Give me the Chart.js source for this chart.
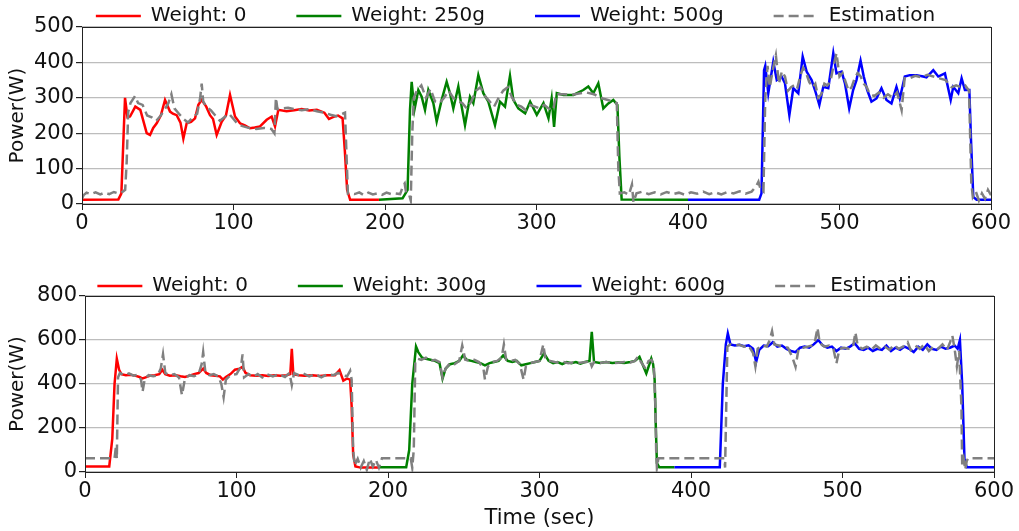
<!DOCTYPE html>
<html>
<head>
<meta charset="utf-8">
<script src="https://cdn.jsdelivr.net/npm/chart.js@4.4.1/dist/chart.umd.min.js"></script>
<style>
    body { margin: 0; background: #fff; }
    #wrap { position: relative; width: 1019px; height: 531px; }
    #topBox { position: absolute; left: 0; top: 0; }
    #bottomBox { position: absolute; left: 0; top: 270px; }
</style>
</head>
<body>
<div id="wrap">
    <div id="topBox"><canvas id="topChart" width="1019" height="240"></canvas></div>
    <div id="bottomBox"><canvas id="bottomChart" width="1019" height="261"></canvas></div>
</div>
<script>
// ---- tick labels ----
const xTicks = [0, 100, 200, 300, 400, 500, 600];
const topYTicks = [0, 100, 200, 300, 400, 500];
const bottomYTicks = [0, 200, 400, 600, 800];

const topLabels = ['Weight: 0', 'Weight: 250g', 'Weight: 500g', 'Estimation'];
const bottomLabels = ['Weight: 0', 'Weight: 300g', 'Weight: 600g', 'Estimation'];

// ---- top plot: measured power ----
const topRedT = [0, 24, 26, 27.5, 28.4, 30, 31.7, 35.2, 38.5, 42.7, 44.9, 47, 49.3, 52, 54.8, 58.1, 60, 62.5, 65, 66.9, 69.1, 72, 74.6, 76.8, 79, 82, 84.5, 86.5, 88.9, 92.2, 95, 97.7, 101, 104.3, 107.5, 110.9, 114, 117.5, 121.9, 125.2, 127.4, 129.6, 135, 140, 145, 150, 155, 160, 163, 166, 169, 172, 173.5, 175, 177, 196];
const topRedP = [12, 13, 30, 200, 300, 245, 247, 275, 266, 200, 195, 215, 228, 250, 294, 261, 255, 251, 230, 185, 228, 232, 242, 280, 294, 275, 251, 240, 195, 232, 250, 308, 247, 228, 222, 214, 216, 219, 238, 247, 219, 266, 262, 265, 268, 264, 266, 258, 240, 246, 250, 242, 150, 40, 12, 12];

const topGreenT = [196, 211.6, 214.9, 216.5, 217.6, 219.4, 222, 224.2, 226.4, 228.6, 231.9, 234.1, 237.4, 240.7, 242.9, 245.1, 248.4, 250.6, 252.8, 256.1, 258.3, 261.6, 264.9, 268.2, 272.6, 275.9, 279.2, 282.5, 284.7, 288, 292.5, 295.8, 300.2, 304.6, 307.9, 310, 311.6, 313.4, 317.8, 324.4, 330.9, 334.2, 337.5, 340.8, 344.1, 347.4, 350.7, 353.4, 354.7, 356.2, 400];
const topGreenP = [12, 16, 40, 266, 345, 266, 322, 303, 266, 322, 285, 233, 294, 345, 313, 270, 332, 275, 223, 303, 285, 364, 313, 289, 223, 289, 275, 362, 294, 270, 256, 289, 252, 285, 242, 298, 218, 313, 308, 308, 322, 332, 313, 341, 270, 284, 294, 280, 134, 13, 12];

const topBlueT = [400, 447, 448.5, 450.2, 451, 453, 456.3, 458.6, 461.8, 464, 466.9, 469.5, 472.8, 475.7, 478.3, 481.6, 483.8, 486.7, 489.3, 492.6, 495.9, 498, 501.4, 503.6, 506.4, 509, 511.2, 513.9, 516, 518.3, 521.1, 524.4, 527.7, 531, 534.3, 537.6, 539.8, 543.1, 546.4, 550.8, 555.2, 557.4, 561.9, 565.2, 569.6, 573.4, 575.1, 578.4, 580.6, 582.8, 585.7, 586.8, 588.3, 590.5, 600];
const topBlueP = [12, 12, 30, 378, 390, 313, 402, 350, 360, 341, 251, 327, 313, 416, 374, 350, 322, 280, 331, 327, 426, 369, 374, 341, 270, 322, 350, 405, 360, 322, 289, 298, 327, 294, 284, 331, 298, 360, 364, 364, 360, 358, 378, 360, 369, 294, 331, 313, 355, 322, 322, 181, 20, 12, 12];

// ---- top plot: estimation ----
const topEstT = [0, 1, 3, 6, 9, 12, 15, 18, 21, 24, 27, 28.5, 29.5, 30.5, 32, 35, 37, 40, 43, 46, 49, 52, 55, 57, 59, 61, 64, 67, 70, 73, 76, 78, 79, 80, 82, 85, 88, 91, 94, 97, 100, 103, 106, 110, 115, 120, 125, 127, 128, 129, 132, 136, 140, 145, 150, 155, 160, 164, 168, 172, 173.6, 174.5, 175.5, 177, 180, 183, 186, 189, 192, 195, 198, 201, 204, 207, 210, 212, 213, 214, 216, 217, 218, 219, 221, 224, 227, 230, 233, 236, 239, 242, 245, 248, 251, 254, 257, 260, 263, 266, 269, 272, 275, 278, 281, 284, 287, 290, 293, 296, 299, 302, 305, 308, 311, 313, 318, 323, 328, 333, 338, 342, 346, 350, 353, 354, 355, 358, 361, 363, 364, 366, 370, 374, 378, 382, 386, 390, 394, 398, 402, 406, 410, 414, 418, 422, 426, 430, 434, 438, 442, 445, 446.5, 448, 449.8, 451, 452.5, 454, 456, 458, 460, 462, 464, 466, 468, 470, 472, 474, 476, 478, 480, 482, 484, 486, 488, 490, 492, 494, 496, 498, 500, 502, 504, 506, 508, 510, 512, 514, 516, 518, 520, 523, 526, 529, 532, 535, 538, 541, 543, 546, 550, 554, 558, 562, 566, 570, 574, 577, 580, 583, 585.5, 587, 588, 590, 592, 594, 596, 598, 600];
const topEstP = [15, 25, 32, 28, 33, 27, 32, 28, 34, 30, 35, 40, 120, 260, 285, 305, 285, 280, 250, 245, 235, 250, 270, 285, 310, 270, 255, 240, 230, 245, 255, 300, 340, 290, 275, 265, 250, 235, 245, 255, 240, 225, 220, 215, 212, 215, 212, 200, 300, 268, 270, 272, 268, 265, 268, 262, 258, 252, 248, 255, 258, 150, 30, 30, 28, 33, 25, 32, 27, 30, 26, 32, 28, 30, 28, 52, 58, 30, 25, 10, 200, 300, 320, 335, 300, 325, 290, 285, 300, 320, 300, 290, 285, 270, 290, 320, 330, 305, 290, 275, 300, 320, 330, 300, 280, 275, 265, 280, 275, 270, 280, 270, 265, 310, 310, 308, 312, 315, 310, 300, 295, 290, 285, 100, 30, 33, 26, 55, 5, 30, 35, 28, 33, 27, 34, 28, 32, 26, 33, 29, 35, 28, 33, 27, 34, 30, 36, 29, 35, 50, 63, 40, 35, 300, 390, 330, 380, 420, 340, 375, 360, 320, 330, 335, 325, 360, 385, 370, 345, 330, 340, 300, 310, 340, 335, 345, 390, 426, 360, 370, 345, 320, 330, 355, 370, 360, 340, 330, 310, 305, 315, 300, 310, 300, 315, 265, 355, 355, 362, 358, 365, 360, 355, 350, 330, 335, 330, 335, 320, 60, 20, 35, 10, 30, 15, 40, 25];

// ---- bottom plot: measured power ----
const bottomRedT = [0, 16, 18, 19.5, 21, 22.5, 24, 27, 30, 33, 36, 38, 40, 43, 46, 49, 51, 53, 56, 60, 63, 66, 69, 72, 75, 78, 80, 83, 86, 89, 91, 93, 96, 99, 102, 104, 106, 109, 113, 117, 121, 125, 129, 133, 135.5, 136.5, 137.5, 141, 145, 150, 155, 160, 165, 168, 170.5, 173, 175, 176, 177, 178.5, 182, 194];
const bottomRedP = [25, 25, 150, 400, 515, 465, 445, 440, 442, 438, 432, 425, 430, 438, 440, 445, 465, 445, 438, 440, 435, 432, 438, 445, 450, 470, 450, 440, 438, 435, 420, 432, 445, 465, 470, 478, 450, 440, 438, 440, 436, 440, 438, 440, 445, 560, 445, 440, 438, 440, 436, 440, 440, 463, 415, 425, 420, 300, 80, 25, 20, 20];

const bottomGreenT = [194, 212, 214, 216, 218.5, 220, 222.5, 225, 228, 231, 234, 236, 238, 241, 244, 247, 249.5, 252, 255, 258, 261, 264, 267, 270, 273, 276, 279, 282, 285, 288, 291, 294, 297, 300, 303, 306, 309, 312, 315, 318, 321, 324, 327, 330, 333, 334.5, 336, 340, 344, 348, 352, 356, 360, 363, 366, 368, 370.5, 373.8, 375, 376, 376.8, 377.5, 379, 389];
const bottomGreenP = [22, 22, 100, 400, 570, 545, 520, 515, 510, 505, 495, 425, 470, 490, 495, 505, 530, 510, 505, 500, 495, 485, 495, 500, 505, 530, 505, 500, 505, 485, 490, 495, 500, 505, 540, 505, 495, 500, 490, 500, 495, 500, 492, 500, 505, 637, 500, 495, 500, 495, 498, 495, 500, 505, 523, 490, 448, 516, 490, 420, 200, 40, 22, 22];

const bottomBlueT = [389, 419, 421, 423, 424.3, 426, 429, 432, 435, 438, 441, 443, 445, 448, 451, 454, 457, 460, 463, 466, 469, 472, 475, 478, 481, 484, 487, 490, 493, 496, 499, 502, 505, 508, 511, 514, 517, 520, 523, 526, 529, 532, 535, 538, 541, 544, 547, 550, 553, 556, 559, 562, 565, 568, 571, 574, 576, 577.5, 579, 580.5, 582, 600];
const bottomBlueP = [22, 22, 400, 580, 630, 580, 575, 578, 572, 576, 560, 500, 555, 575, 572, 590, 570, 575, 560, 550, 545, 565, 570, 565, 580, 600, 575, 565, 570, 550, 565, 560, 570, 585, 560, 555, 565, 550, 560, 555, 575, 550, 565, 555, 570, 560, 545, 570, 555, 580, 560, 555, 570, 560, 565, 575, 560, 600, 400, 60, 22, 22];

// ---- bottom plot: estimation ----
const bottomEstT = [0, 19.5, 20.5, 21, 21.8, 23, 26, 29, 32, 35, 37, 38, 39.5, 42, 45, 48, 50, 51.5, 53, 56, 59, 62, 64, 66, 69, 72, 75, 77, 78, 79.5, 82, 85, 88, 90, 91.5, 93, 96, 100, 103, 104, 105, 108, 111, 114, 117, 120, 124, 128, 132, 135, 136.5, 138, 141, 144, 148, 152, 156, 160, 164, 167, 170, 173, 175, 176, 177, 178, 180, 182, 184, 186, 188, 190, 192, 194, 196, 215, 216, 217, 218, 219.5, 222, 225, 228, 231, 234, 236, 238, 241, 244, 247, 249, 251, 254, 257, 260, 263, 264, 266, 269, 272, 275, 276.5, 278, 281, 284, 287, 289.5, 291, 294, 297, 300, 302.5, 304, 307, 310, 313, 316, 319, 322, 325, 328, 331, 333, 334.5, 336, 340, 344, 348, 352, 356, 360, 363, 365, 367, 370, 372, 374, 375.5, 376.5, 377, 377.5, 378.5, 422, 422.5, 423, 424, 426, 429, 432, 435, 438, 441, 442.5, 444, 447, 450, 452, 453.5, 455, 458, 461, 464, 467, 469, 471, 474, 477, 480, 482, 483.5, 485, 488, 491, 494, 496, 498, 501, 504, 507, 508.5, 510, 513, 516, 519, 522, 525, 528, 531, 534, 537, 540, 543, 545, 548, 551, 554, 557, 560, 563, 566, 569, 571, 572.5, 574, 575.5, 577, 578.5, 579, 580, 581, 582, 583, 600];
const bottomEstP = [62, 62, 120, 60, 430, 450, 440, 448, 438, 442, 420, 365, 425, 440, 435, 440, 470, 535, 450, 440, 445, 430, 350, 425, 440, 435, 445, 490, 545, 450, 440, 445, 435, 400, 340, 420, 440, 445, 480, 535, 430, 445, 432, 445, 430, 445, 435, 445, 432, 450, 395, 450, 440, 448, 435, 445, 430, 445, 440, 450, 440, 435, 460, 420, 100, 30, 60, 20, 50, 10, 60, 25, 55, 20, 62, 62, 20, 100, 500, 515, 510, 520, 505, 510, 500, 430, 470, 495, 490, 505, 575, 510, 505, 510, 500, 470, 420, 480, 500, 505, 520, 580, 510, 505, 510, 490, 420, 480, 495, 500, 505, 580, 510, 505, 500, 497, 500, 494, 498, 495, 498, 500, 510, 480, 500, 496, 500, 495, 497, 500, 498, 505, 525, 500, 470, 505, 510, 480, 300, 100, 20, 62, 62, 20, 200, 570, 580, 575, 578, 570, 575, 540, 480, 560, 575, 570, 600, 640, 580, 575, 570, 565, 520, 478, 560, 565, 570, 575, 600, 655, 585, 570, 575, 560, 494, 560, 565, 560, 570, 635, 575, 560, 570, 555, 575, 560, 570, 555, 578, 560, 570, 590, 555, 575, 560, 580, 550, 570, 560, 580, 555, 590, 620, 560, 480, 550, 300, 30, 60, 10, 50, 62, 62];

const fontName = "'DejaVu Sans', sans-serif";

function toPoints(ts, ps) {
    return ts.map((t, i) => ({ x: t, y: ps[i] }));
}

function solidSet(label, color, ts, ps) {
    return {
        label: label,
        data: toPoints(ts, ps),
        borderColor: color,
        backgroundColor: color,
        borderWidth: 2.5,
        pointRadius: 0,
        tension: 0,
        order: 1
    };
}

function estSet(label, ts, ps) {
    return {
        label: label,
        data: toPoints(ts, ps),
        borderColor: '#808080',
        backgroundColor: '#808080',
        borderWidth: 2.5,
        borderDash: [10, 5],
        pointRadius: 0,
        tension: 0,
        order: 0
    };
}

// legend entries take dash and width from the dataset line
function legendItems(chart) {
    const items = Chart.defaults.plugins.legend.labels.generateLabels(chart);
    items.forEach(item => {
        const ds = chart.data.datasets[item.datasetIndex];
        item.lineDash = ds.borderDash || [];
        item.lineWidth = ds.borderWidth;
        item.strokeStyle = ds.borderColor;
    });
    return items.sort((a, b) => a.datasetIndex - b.datasetIndex);
}

// frame round the plot area, like matplotlib spines
const frame = {
    id: 'frame',
    afterDatasetsDraw(chart) {
        const a = chart.chartArea;
        const ctx = chart.ctx;
        ctx.save();
        ctx.strokeStyle = '#222';
        ctx.lineWidth = 1;
        ctx.strokeRect(Math.round(a.left) + 0.5, Math.round(a.top) + 0.5,
            Math.round(a.right - a.left), Math.round(a.bottom - a.top));
        ctx.restore();
    }
};

// legend sits in a fixed strip above the plot
function legendStrip(height, lineY, shiftX) {
    return {
        id: 'legendStrip',
        beforeInit(chart) {
            const fit = chart.legend.fit;
            chart.legend.fit = function () {
                fit.call(this);
                this.height = height;
            };
        },
        beforeDraw(chart) {
            const lg = chart.legend;
            const pad = chart.options.plugins.legend.labels.padding;
            lg.top = lineY - pad - 10;
            if (!lg._shifted) {
                lg.left += shiftX;
                lg.right += shiftX;
                lg._shifted = true;
            }
        }
    };
}

function makeChart(id, labels, sets, yTicks, yMax, opts) {
    return new Chart(document.getElementById(id), {
        type: 'line',
        data: { datasets: sets },
        options: {
            responsive: false,
            animation: false,
            layout: { padding: { left: 0, right: opts.right, top: 0, bottom: 0 } },
            plugins: {
                legend: {
                    position: 'top',
                    labels: {
                        usePointStyle: true,
                        pointStyle: 'line',
                        pointStyleWidth: 45,
                        boxHeight: 20,
                        padding: 50,
                        color: '#111',
                        font: { family: fontName, size: 20 },
                        generateLabels: legendItems
                    }
                },
                tooltip: { enabled: false }
            },
            scales: {
                x: {
                    type: 'linear',
                    min: 0,
                    max: 600,
                    afterBuildTicks: s => { s.ticks = xTicks.map(v => ({ value: v })); },
                    afterFit: s => { s.height = opts.xHeight; },
                    border: { display: false },
                    grid: { drawOnChartArea: false, drawTicks: true, tickLength: 6, tickColor: '#222' },
                    ticks: { color: '#111', padding: 1, maxRotation: 0, font: { family: fontName, size: 21 } },
                    title: {
                        display: opts.xTitle,
                        text: 'Time (sec)',
                        color: '#111',
                        padding: { top: 0, bottom: 0 },
                        font: { family: fontName, size: 21 }
                    }
                },
                y: {
                    type: 'linear',
                    min: 0,
                    max: yMax,
                    afterBuildTicks: s => { s.ticks = yTicks.map(v => ({ value: v })); },
                    afterFit: s => { s.width = opts.left; },
                    border: { display: false },
                    grid: { color: '#bdbdbd', lineWidth: 1.2, tickLength: 6, tickColor: '#222' },
                    ticks: { color: '#111', padding: 2, font: { family: fontName, size: 21 } },
                    title: {
                        display: true,
                        text: 'Power(W)',
                        color: '#111',
                        padding: { top: 6, bottom: 0 },
                        font: { family: fontName, size: 20 }
                    }
                }
            }
        },
        plugins: [frame, legendStrip(opts.legendHeight, opts.legendY, 20)]
    });
}

makeChart('topChart', topLabels, [
    solidSet(topLabels[0], '#ff0000', topRedT, topRedP),
    solidSet(topLabels[1], '#008000', topGreenT, topGreenP),
    solidSet(topLabels[2], '#0000ff', topBlueT, topBlueP),
    estSet(topLabels[3], topEstT, topEstP)
], topYTicks, 500, { left: 82, right: 28, xHeight: 36, xTitle: false, legendHeight: 27, legendY: 16 });

makeChart('bottomChart', bottomLabels, [
    solidSet(bottomLabels[0], '#ff0000', bottomRedT, bottomRedP),
    solidSet(bottomLabels[1], '#008000', bottomGreenT, bottomGreenP),
    solidSet(bottomLabels[2], '#0000ff', bottomBlueT, bottomBlueP),
    estSet(bottomLabels[3], bottomEstT, bottomEstP)
], bottomYTicks, 800, { left: 85, right: 25, xHeight: 59, xTitle: true, legendHeight: 26, legendY: 16 });
</script>
</body>
</html>
